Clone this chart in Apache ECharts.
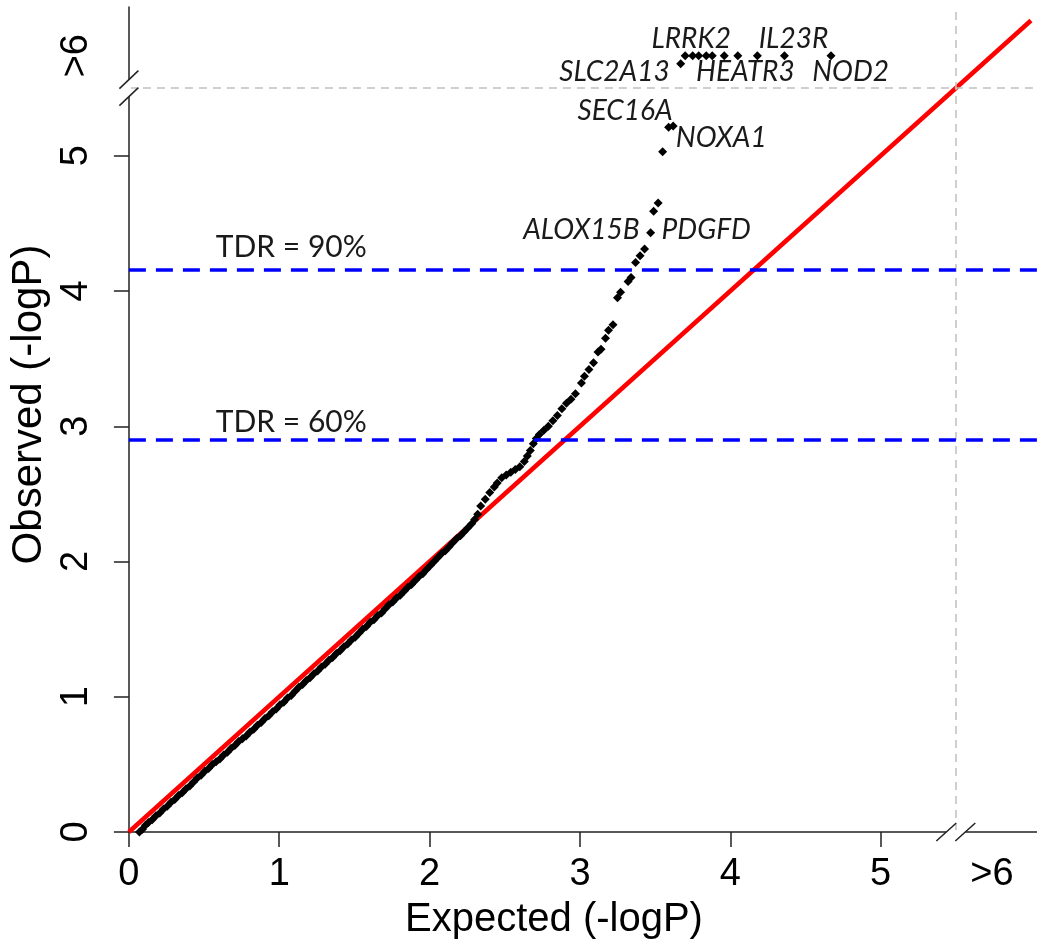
<!DOCTYPE html>
<html><head><meta charset="utf-8">
<script src="https://cdn.jsdelivr.net/npm/echarts@6/dist/echarts.min.js"></script>
<style>html,body{margin:0;padding:0;background:#fff}#c{width:1037px;height:949px}</style>
</head><body><div id="c"></div>
<script>
// ---- data ----
const xTickValues = [0, 1, 2, 3, 4, 5, 5.74];
const xTickLabels = ['0', '1', '2', '3', '4', '5', '>6'];
const yTickValues = [0, 1, 2, 3, 4, 5, 5.74];
const yTickLabels = ['0', '1', '2', '3', '4', '5', '>6'];
const majorTicks = [0, 1, 2, 3, 4, 5];
const breakAt = 5.5;
const xTitle = 'Expected (-logP)';
const yTitle = 'Observed (-logP)';

// observed vs expected -logP (points above 6 drawn at the ">6" row)
const observedPoints = [
  [0.07,0.00],[0.09,0.02],[0.11,0.05],[0.13,0.07],[0.155,0.09],[0.18,0.12],[0.205,0.14],[0.23,0.17],
  [0.255,0.19],[0.28,0.22],[0.305,0.24],[0.33,0.27],[0.355,0.29],[0.38,0.32],[0.405,0.34],[0.43,0.37],
  [0.455,0.40],[0.48,0.42],[0.505,0.45],[0.53,0.47],[0.555,0.50],[0.58,0.52],[0.605,0.54],[0.63,0.57],
  [0.655,0.59],[0.68,0.62],[0.705,0.64],[0.73,0.67],[0.755,0.69],[0.78,0.71],[0.805,0.74],[0.83,0.76],
  [0.855,0.79],[0.88,0.81],[0.905,0.84],[0.93,0.86],[0.955,0.89],[0.98,0.91],[1.005,0.94],[1.03,0.96],
  [1.055,0.99],[1.08,1.01],[1.105,1.04],[1.13,1.07],[1.155,1.09],[1.18,1.12],[1.205,1.14],[1.23,1.17],
  [1.255,1.19],[1.28,1.22],[1.305,1.24],[1.33,1.27],[1.355,1.29],[1.38,1.32],[1.405,1.34],[1.43,1.37],
  [1.455,1.39],[1.48,1.42],[1.505,1.44],[1.53,1.47],[1.555,1.50],[1.58,1.52],[1.605,1.55],[1.63,1.57],
  [1.655,1.60],[1.68,1.62],[1.705,1.65],[1.73,1.68],[1.755,1.70],[1.78,1.73],[1.805,1.75],[1.83,1.78],
  [1.855,1.81],[1.88,1.83],[1.905,1.86],[1.93,1.89],[1.955,1.91],[1.98,1.94],[2.005,1.97],[2.03,2.00],
  [2.055,2.03],[2.08,2.06],[2.105,2.08],[2.13,2.11],[2.155,2.14],[2.18,2.17],[2.205,2.19],[2.23,2.22],
  [2.255,2.25],[2.28,2.28],[2.30,2.31],
  [2.32,2.35],[2.34,2.41],[2.37,2.46],[2.40,2.51],[2.43,2.55],[2.45,2.58],[2.48,2.62],[2.51,2.64],
  [2.54,2.66],[2.57,2.68],[2.60,2.70],[2.63,2.74],[2.65,2.78],[2.67,2.82],[2.69,2.87],[2.71,2.91],
  [2.73,2.94],[2.76,2.97],[2.79,3.00],[2.82,3.04],[2.85,3.08],[2.88,3.13],[2.91,3.17],[2.94,3.20],
  [2.97,3.24],[3.01,3.32],[3.03,3.37],[3.06,3.42],[3.09,3.47],[3.12,3.55],[3.14,3.57],[3.17,3.65],
  [3.19,3.71],[3.22,3.75],[3.25,3.95],[3.27,3.99],[3.32,4.07],[3.34,4.10],[3.37,4.21],[3.40,4.26],
  [3.43,4.31],[3.47,4.43],[3.49,4.59],[3.52,4.65],[3.55,5.03],[3.59,5.21],[3.62,5.22],
  [3.67,5.68],[3.70,5.74],[3.75,5.74],[3.79,5.74],[3.84,5.74],[3.88,5.74],[3.96,5.74],[4.05,5.74],
  [4.18,5.74],[4.36,5.74],[4.67,5.74]
];
const expectedLine = [[0, 0], [6, 6]];
const tdrLevels = [4.16, 2.90];
const tdrTexts = [['TDR = 90%', 1.08, 4.32], ['TDR = 60%', 1.08, 3.03]];
const geneTexts = [
  ['LRRK2', 3.74, 5.86], ['IL23R', 4.42, 5.86],
  ['SLC2A13', 3.23, 5.62], ['HEATR3', 4.10, 5.62], ['NOD2', 4.80, 5.62],
  ['SEC16A', 3.30, 5.33], ['NOXA1', 3.94, 5.13],
  ['ALOX15B', 3.01, 4.45], ['PDGFD', 3.84, 4.45]
];

// ---- chart ----
const chart = echarts.init(document.getElementById('c'), null, {renderer: 'canvas'});
const axisColor = '#222';
const labelFont = 'Liberation Sans, Arial, sans-serif';

function labelFor(values, labels) {
  return v => {
    const i = values.findIndex(t => Math.abs(t - v) < 1e-6);
    return i >= 0 ? labels[i] : '';
  };
}

const option = {
  animation: false,
  backgroundColor: '#fff',
  grid: {left: 127, right: 0, top: 7, bottom: 117},
  xAxis: {
    type: 'value', min: 0, max: 6.04,
    axisLine: {show: true, onZero: false, lineStyle: {color: axisColor, width: 1.5}},
    axisTick: {show: true, customValues: majorTicks, length: 15, lineStyle: {color: axisColor, width: 1.5}},
    axisLabel: {customValues: xTickValues, formatter: labelFor(xTickValues, xTickLabels),
      fontSize: 38, color: '#000', fontFamily: labelFont, margin: 24},
    splitLine: {show: false},
    name: xTitle, nameLocation: 'middle', nameGap: 68,
    nameTextStyle: {fontSize: 40, color: '#000', fontFamily: labelFont, padding: [0, 58, 0, 0]}
  },
  yAxis: {
    type: 'value', min: 0, max: 6.1,
    axisLine: {show: true, onZero: false, lineStyle: {color: axisColor, width: 1.5}},
    axisTick: {show: true, customValues: majorTicks, length: 15, lineStyle: {color: axisColor, width: 1.5}},
    axisLabel: {customValues: yTickValues, formatter: labelFor(yTickValues, yTickLabels),
      rotate: 90, fontSize: 38, color: '#000', fontFamily: labelFont, margin: 33},
    splitLine: {show: false},
    name: yTitle, nameLocation: 'middle', nameGap: 76, nameRotate: 90,
    nameTextStyle: {fontSize: 42, color: '#000', fontFamily: labelFont, padding: [0, 0, 0, 30]}
  },
  series: [
    {
      type: 'line', data: expectedLine, symbol: 'none', silent: true, z: 2,
      lineStyle: {color: '#ff0000', width: 4.5},
      markLine: {
        silent: true, symbol: 'none', label: {show: false},
        lineStyle: {color: '#c0c0c0', width: 1.5, type: [8, 6]},
        data: [{xAxis: breakAt}, {yAxis: breakAt}]
      }
    },
    {
      type: 'scatter', data: observedPoints, symbol: 'diamond', symbolSize: 9, z: 3, silent: true,
      itemStyle: {color: '#000', opacity: 1}
    },
    {
      type: 'line', data: [], silent: true, z: 4,
      markLine: {
        silent: true, symbol: 'none', label: {show: false},
        lineStyle: {color: '#0000ff', width: 3.5, type: [17, 10]},
        data: tdrLevels.map(v => ({yAxis: v}))
      }
    },
    {
      type: 'scatter', silent: true, z: 5, symbolSize: 1, itemStyle: {color: 'rgba(0,0,0,0)', opacity: 1},
      data: tdrTexts.map(t => ({name: t[0], value: [t[1], t[2]]})),
      label: {show: true, position: 'inside', formatter: p => p.name,
        fontFamily: 'Lato', fontSize: 30, color: '#1a1a1a'}
    },
    {
      type: 'scatter', silent: true, z: 5, symbolSize: 1, itemStyle: {color: 'rgba(0,0,0,0)', opacity: 1},
      data: geneTexts.map(t => ({name: t[0], value: [t[1], t[2]]})),
      label: {show: true, position: 'inside', formatter: p => p.name,
        fontFamily: 'Lato', fontStyle: 'italic', fontSize: 28, color: '#1a1a1a'}
    }
  ]
};
chart.setOption(option);

// axis break marks
const bx = chart.convertToPixel({gridIndex: 0}, [breakAt, 0]);
const by = chart.convertToPixel({gridIndex: 0}, [0, breakAt]);
const stroke = {stroke: axisColor, lineWidth: 1.5};
const half = 9.5;
const els = [
  {type: 'rect', shape: {x: bx[0] - half, y: bx[1] - 2, width: 2 * half, height: 4}, style: {fill: '#fff'}, z: 100},
  {type: 'rect', shape: {x: by[0] - 2, y: by[1] - 8.5, width: 4, height: 17}, style: {fill: '#fff'}, z: 100}
];
[-half, half].forEach(d => {
  const cx = bx[0] + d, cy = bx[1];
  els.push({type: 'line', shape: {x1: cx - 10, y1: cy + 9, x2: cx + 10, y2: cy - 9}, style: stroke, z: 101});
});
[-8.5, 8.5].forEach(d => {
  const cx = by[0], cy = by[1] + d;
  els.push({type: 'line', shape: {x1: cx - 9.5, y1: cy + 9, x2: cx + 9.5, y2: cy - 9}, style: stroke, z: 101});
});
chart.setOption({graphic: {elements: els}});
</script>
</body></html>
